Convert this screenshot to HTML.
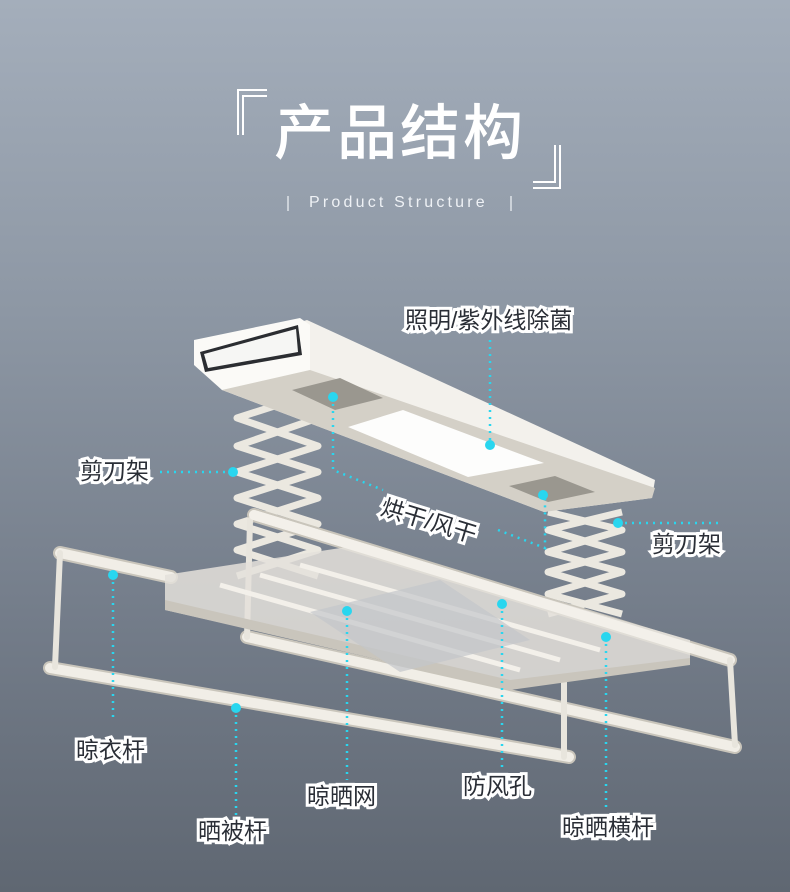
<!DOCTYPE html>
<html><head><meta charset="utf-8"><style>
html,body{margin:0;padding:0}
body{width:790px;height:892px;overflow:hidden;background:linear-gradient(180deg,#a4aebb 0%,#8d97a4 35%,#737c89 70%,#5f6772 100%);position:relative;font-family:"Liberation Sans","Noto Sans CJK SC",sans-serif}
.t{position:absolute;color:#fff;font-size:60px;left:274px;top:104px;letter-spacing:3px;font-weight:500;line-height:1}
.sub{position:absolute;left:309px;top:194px;color:#eef1f5;font-size:16px;letter-spacing:3.2px}
.lb{position:absolute;font-size:23px;color:#2a2e36;-webkit-text-stroke:6px #fff;paint-order:stroke fill;line-height:1;white-space:nowrap}
svg{position:absolute;left:0;top:0}
</style></head><body>
<svg width="790" height="892">
<path d="M267 90 H238 V135 M243 135 V96 H267" stroke="#fff" stroke-width="2" fill="none"/>
<path d="M533 188 H560 V145 M555 145 V182 H533" stroke="#fff" stroke-width="2" fill="none"/>
<line x1="288" y1="196" x2="288" y2="211" stroke="#dfe3e8" stroke-width="1.5"/>
<line x1="511" y1="196" x2="511" y2="211" stroke="#dfe3e8" stroke-width="1.5"/>
<g stroke="#ebe8e0" stroke-width="7" fill="none" stroke-linejoin="round">
<polyline points="318,392 237,418 318,446 237,472 318,498 237,524 318,550 237,576"/>
<polyline points="237,392 318,418 237,446 318,472 237,498 318,524 237,550 318,576"/>
<polyline points="548,512 622,530 548,552 622,572 548,594 622,614"/>
<polyline points="622,512 548,530 622,552 548,572 622,594 548,614"/>
</g>
<polygon points="194,355 307,320 655,480 652,498 544,512 222,390" fill="#f3f1ec"/>
<polygon points="194,340 300,318 310,325 310,370 222,390 194,365" fill="#fbfaf7"/>
<polygon points="200,352 298,325 302,355 205,372" fill="#2b2d31"/>
<polygon points="204,354 296,329 298,352 208,368" fill="#f6f6f4"/>
<polygon points="222,390 310,370 655,488 652,498 544,512" fill="#d4d0c7"/>
<polygon points="348,427 403,410 544,463 468,477" fill="#fdfdfc"/>
<polygon points="292,390 340,378 383,398 335,410" fill="#9a978f"/>
<polygon points="509,486 555,476 595,492 548,502" fill="#9a978f"/>
<g stroke-linecap="round" fill="none">
<g stroke="#c9c5bb" stroke-width="14">
<line x1="254" y1="515" x2="730" y2="660"/>
<line x1="60" y1="553" x2="171" y2="577"/>
<line x1="50" y1="668" x2="569" y2="757"/>
<line x1="247" y1="637" x2="735" y2="747"/>
</g>
<g stroke="#f1eee7" stroke-width="10">
<line x1="254" y1="515" x2="730" y2="660"/>
<line x1="60" y1="553" x2="171" y2="577"/>
<line x1="50" y1="668" x2="569" y2="757"/>
<line x1="247" y1="637" x2="735" y2="747"/>
</g>
<g stroke="#e8e5dd" stroke-width="6">
<line x1="60" y1="553" x2="55" y2="667"/>
<line x1="564" y1="680" x2="564" y2="757"/>
<line x1="730" y1="660" x2="735" y2="745"/>
<line x1="250" y1="520" x2="247" y2="637"/>
</g>
</g>
<polygon points="165,575 360,545 690,640 690,662 510,688 165,610" fill="#e4e1da" opacity=".85"/>
<polygon points="165,600 510,680 690,658 690,665 510,690 165,610" fill="#c9c5bc"/>
<g stroke="#f3f0ea" stroke-width="5">
<line x1="220" y1="585" x2="520" y2="670"/><line x1="260" y1="575" x2="560" y2="660"/><line x1="300" y1="565" x2="600" y2="650"/>
</g>
<polygon points="310,612 440,580 530,640 400,672" fill="#c3c6ca" opacity=".7"/>
<line x1="254" y1="515" x2="690" y2="648" stroke="#f3f0ea" stroke-width="10" stroke-linecap="round"/>
<g stroke="#29d6ef" stroke-width="2.5" stroke-dasharray="2 5" fill="none">
<line x1="490" y1="340" x2="490" y2="445"/>
<line x1="160" y1="472" x2="233" y2="472"/>
<polyline points="333,397 333,470 383,490"/>
<polyline points="498,530 545,548 545,495"/>
<line x1="618" y1="523" x2="722" y2="523"/>
<line x1="113" y1="575" x2="113" y2="720"/>
<line x1="236" y1="708" x2="236" y2="815"/>
<line x1="347" y1="611" x2="347" y2="780"/>
<line x1="502" y1="604" x2="502" y2="770"/>
<line x1="606" y1="637" x2="606" y2="810"/>
</g>
<g fill="#29d6ef">
<circle cx="490" cy="445" r="5"/><circle cx="233" cy="472" r="5"/><circle cx="333" cy="397" r="5"/>
<circle cx="543" cy="495" r="5"/><circle cx="618" cy="523" r="5"/><circle cx="113" cy="575" r="5"/>
<circle cx="236" cy="708" r="5"/><circle cx="347" cy="611" r="5"/><circle cx="502" cy="604" r="5"/><circle cx="606" cy="637" r="5"/>
</g>
</svg>
<div class="t">产品结构</div>
<div class="sub">Product Structure</div>
<div class="lb" style="left:405px;top:309px">照明/紫外线除菌</div>
<div class="lb" style="left:80px;top:460px">剪刀架</div>
<div class="lb" style="left:385px;top:496px;transform:rotate(17deg);transform-origin:left top">烘干/风干</div>
<div class="lb" style="left:652px;top:533px">剪刀架</div>
<div class="lb" style="left:76px;top:739px">晾衣杆</div>
<div class="lb" style="left:198px;top:820px">晒被杆</div>
<div class="lb" style="left:307px;top:785px">晾晒网</div>
<div class="lb" style="left:463px;top:775px">防风孔</div>
<div class="lb" style="left:562px;top:816px">晾晒横杆</div>
</body></html>
